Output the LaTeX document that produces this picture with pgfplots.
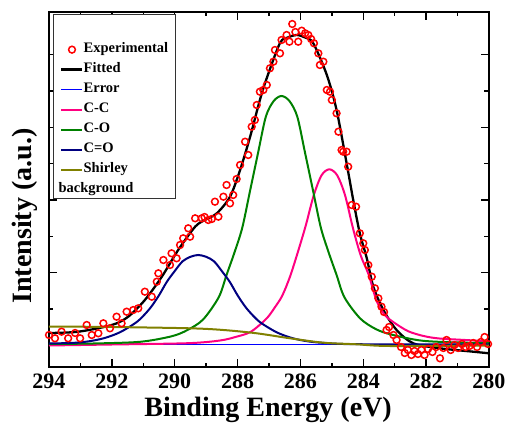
\documentclass[border=0pt]{standalone}
\usepackage{fontspec}
\setmainfont{Liberation Serif}
\usepackage{pgfplots}
\pgfplotsset{compat=1.18}

\definecolor{ccpink}{RGB}{255,0,128}
\definecolor{cogreen}{RGB}{0,128,0}
\definecolor{conavy}{RGB}{0,0,128}
\definecolor{shirleyc}{RGB}{128,128,0}

\pgfplotsset{
  lineleg/.style={legend image code/.code={\draw[##1] (0bp,0bp) -- (21bp,0bp);}},
  markleg/.style={legend image code/.code={\draw[mark repeat=2,mark phase=2,##1] plot coordinates {(0bp,0bp) (10.5bp,0bp) (21bp,0bp)};}},
}

\begin{document}
\begin{tikzpicture}
\begin{axis}[
  scale only axis, width=440bp, height=355bp,
  xmin=280, xmax=294, x dir=reverse,
  ymin=0, ymax=355,
  xtick={280,282,...,294}, minor x tick num=1,
  ytick={21.5,94.2,166.9,239.6,312.3}, minor y tick num=1, yticklabels={},
  tick align=inside, major tick length=8bp, minor tick length=4.5bp,
  every tick/.style={black, line width=1.4bp},
  axis line style={line width=2bp},
  /pgf/number format/assume math mode=true,
  tick label style={font=\bfseries\fontsize{22bp}{22bp}\selectfont},
  xticklabel style={yshift=-3bp},
  xlabel={Binding Energy (eV)}, ylabel={Intensity (a.u.)},
  label style={font=\bfseries\fontsize{28bp}{28bp}\selectfont},
  xlabel style={at={(axis description cs:0.498,-0.121)}, anchor=center},
  ylabel style={at={(axis description cs:-0.055,0.425)}, anchor=center},
  legend cell align=left,
  legend style={at={(axis description cs:0,1)}, anchor=north west,
    xshift=4bp, yshift=-2bp, draw=black!80, line width=0.7bp,
    inner xsep=7bp, inner ysep=2bp, row sep=0pt,
    /tikz/every even column/.style={column sep=4bp},
    font=\bfseries\fontsize{14.5bp}{14.5bp}\selectfont,
    nodes={inner sep=0pt, text height=13bp, text depth=7bp}},
]
\addlegendimage{empty legend}
\addlegendentry[text height=16.3bp]{\mbox{}}

% experimental points
\addplot[only marks, mark=o, mark size=3.4bp, draw=red, line width=1.5bp, markleg]
table {
294.00 32
293.81 28.7
293.60 35.3
293.39 28.7
293.17 34
293.01 28.7
292.80 42
292.64 32
292.43 33.7
292.27 43.7
292.06 38.7
291.85 50.3
291.69 43.7
291.53 55.3
291.32 57
291.16 58.7
290.95 75.3
290.73 70.3
290.57 85.3
290.52 93.7
290.36 107
290.15 102
290.10 113.7
289.94 108.7
289.83 122
289.73 128.7
289.57 138.7
289.51 130.3
289.35 148.7
289.14 148.7
289.05 150
288.93 147
288.82 148
288.72 165.3
288.61 150.3
288.45 170.3
288.35 182
288.24 163.7
288.14 172
288.03 188
287.92 202
287.76 225.3
287.66 212
287.55 240.3
287.45 247
287.39 262
287.29 275.3
287.18 277
287.07 282
286.97 298.7
286.86 305.3
286.81 317
286.65 313.7
286.60 327
286.44 332
286.35 325.3
286.26 343
286.16 335
286.07 325.3
285.96 336.3
285.85 333.7
285.75 332
285.66 328
285.57 323.7
285.43 313.7
285.38 302
285.27 305.3
285.16 277
285.06 275.3
285.00 267
284.85 253.7
284.79 235.3
284.69 217
284.64 215.3
284.53 215.3
284.48 200.3
284.37 162
284.23 160.3
284.11 133.7
284.00 123.7
283.95 117
283.84 102
283.73 90.3
283.63 78.7
283.52 68.7
283.42 60.3
283.34 55
283.26 37
283.18 40
283.04 32
282.94 27
282.80 20
282.68 14
282.58 17
282.47 12
282.37 16
282.26 13
282.15 17
282.05 12
281.94 18
281.80 15
281.68 20
281.56 8.7
281.45 19
281.35 27
281.22 17
281.10 22
280.98 19
280.86 23
280.74 20
280.62 21
280.50 24
280.38 20
280.26 25
280.14 30
280.03 23
};
\addlegendentry{Experimental}

% fitted envelope
\addplot[draw=black, line width=2.3bp, smooth, lineleg] table {
294.00 34
293.07 35.3
292.00 42
291.48 50.3
290.95 67
290.41 90.3
289.89 117
289.35 140.3
289.04 147
288.66 153.7
288.24 170.3
287.92 197
287.60 230.3
287.29 267
287.07 289
286.65 324
286.40 329.5
286.12 332
285.85 329.5
285.59 323.7
285.16 292
284.85 257
284.53 203.7
284.32 167
284.11 133.7
283.89 109
283.68 80.3
283.36 57
282.94 37
282.41 23.7
281.56 18.7
280.50 15.3
280.00 13.7
};
\addlegendentry{Fitted}

% error
\addplot[draw=blue, line width=1.6bp, lineleg] table {
294.00 22.5
280.00 22.5
};
\addlegendentry{Error}

% C-C
\addplot[draw=ccpink, line width=2bp, smooth, lineleg] table {
294.00 21.5
292.00 22.5
289.58 23.8
288.58 26.4
288.08 29.9
287.58 35.2
287.08 48.4
286.83 58.9
286.58 71.2
286.33 90.5
286.08 115.1
285.83 141.5
285.58 171.3
285.33 191.6
285.08 197.7
284.83 191.7
284.58 171.8
284.33 139
284.08 111.4
283.83 92.4
283.58 66.4
283.33 52.6
283.08 45.7
282.58 35.9
282.08 31
281.58 28.5
280.58 26.7
280.00 25.3
};
\addlegendentry{C-C}

% C-O
\addplot[draw=cogreen, line width=2bp, smooth, lineleg] table {
294.00 23
292.60 23.5
291.10 25.2
290.10 30.7
289.60 36.9
289.10 47.4
288.60 69.7
288.35 92.1
288.10 114.4
287.85 139.3
287.60 176.6
287.35 213.8
287.10 250.4
286.85 266
286.60 271
286.35 266
286.10 250.4
285.85 213.8
285.60 176.6
285.35 139.3
285.10 114.4
284.85 92.1
284.60 69.7
284.10 48.6
283.60 37.9
283.10 32.4
282.10 26.2
280.60 24.2
280.00 24.3
};
\addlegendentry{C-O}

% C=O
\addplot[draw=conavy, line width=2bp, smooth, lineleg] table {
294.00 23.5
293.25 24.1
292.75 25.6
292.25 28.8
291.75 34.6
291.25 44
291.00 51.1
290.75 60.1
290.50 71.7
290.25 85.2
290.00 95.9
289.75 105.7
289.50 110.2
289.25 112
289.00 110.2
288.75 105.7
288.50 95.9
288.25 85.2
288.00 71.7
287.75 60.1
287.50 51.1
287.25 44
286.75 34.6
286.25 28.8
285.75 25.6
285.25 24.1
284.25 22.8
280.00 22.5
};
\addlegendentry{C=O}

% Shirley background
\addplot[draw=shirleyc, line width=2bp, smooth, lineleg] table {
294.00 40.5
292.00 40
289.51 38.7
288.45 37
287.39 33.7
286.33 28.7
285.27 24.3
284.21 22.7
283.15 21
280.00 21.5
};
\addlegendentry{Shirley}
\addlegendimage{empty legend}
\addlegendentry[text depth=4bp]{\hspace*{-25bp}background}
\end{axis}
\pgfresetboundingbox
\path (-49bp,-61bp) rectangle (460bp,367bp);
\end{tikzpicture}
\end{document}
